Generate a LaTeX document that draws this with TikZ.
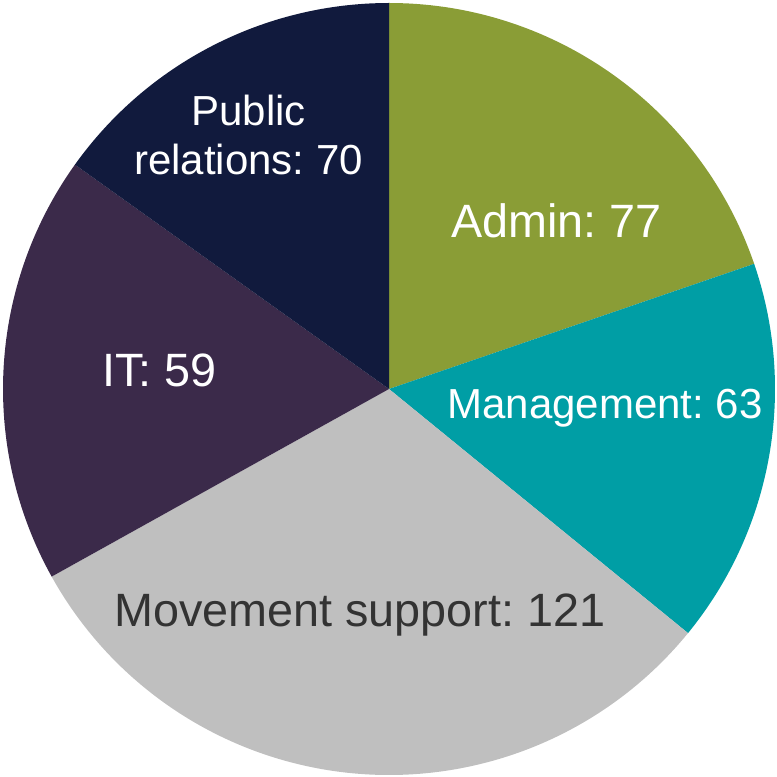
\documentclass[tikz,border=0pt]{standalone}
\usepackage{fontspec}
\setmainfont{Liberation Sans}
\usepackage{xcolor}
\usepackage{tikz}

\definecolor{adminc}{HTML}{8A9D36}
\definecolor{mgmtc}{HTML}{009EA5}
\definecolor{movec}{HTML}{BFBFBF}
\definecolor{itc}{HTML}{3B2A4A}
\definecolor{prc}{HTML}{111A3D}
\definecolor{darktext}{HTML}{333333}

\begin{document}
\frenchspacing
\begin{tikzpicture}[big/.style = {font=\fontsize{26.6pt}{30pt}\selectfont, anchor=base, inner sep=0pt},
                small/.style = {font=\fontsize{23.9pt}{27.5pt}\selectfont, anchor=base, inner sep=0pt}]
            \useasboundingbox (0,0) rectangle (15.54,15.52);
            % Slices
            \coordinate (O) at (7.78,7.74);
            \fill[adminc] (O) -- ++(90:7.72) arc[start angle=90, end angle=18.92, radius=7.72] -- cycle;
            \fill[mgmtc] (O) -- ++(18.92:7.72) arc[start angle=18.92, end angle=-39.23, radius=7.72] -- cycle;
            \fill[movec] (O) -- ++(-39.23:7.72) arc[start angle=-39.23, end angle=-150.92, radius=7.72] -- cycle;
            \fill[itc] (O) -- ++(-150.92:7.72) arc[start angle=-150.92, end angle=-215.54, radius=7.72] -- cycle;
            \fill[prc] (O) -- ++(-215.54:7.72) arc[start angle=-215.54, end angle=-270, radius=7.72] -- cycle;

            % Labels
            \node[big,white] (admin) at (11.13,10.77) {Admin: 77};
            \node[small,white] (mgmt) at (12.10,7.16) {Management: 63};
            \node[big,darktext] (move) at (7.20,3.00) {Movement support: 121};
            \node[big,white] (it) at (3.19,7.80) {IT: 59};
            \node[small,white,align=center] (pr) at (4.97,12.04) {Public\\relations: 70};
\end{tikzpicture}
\end{document}
